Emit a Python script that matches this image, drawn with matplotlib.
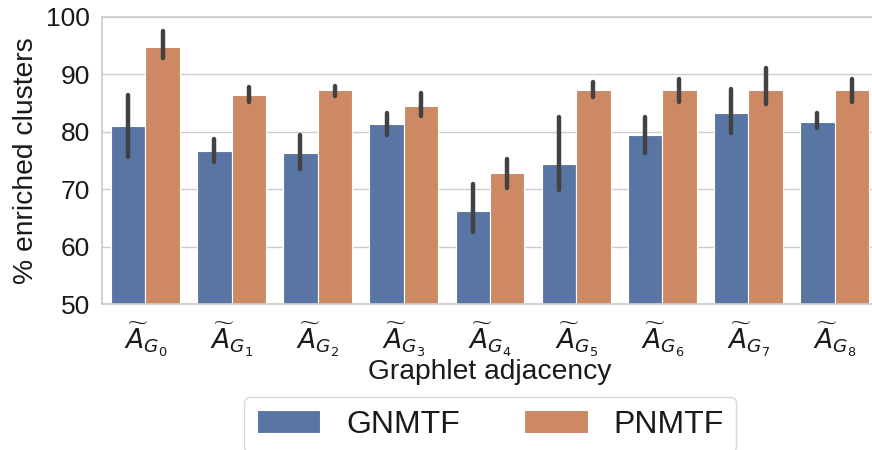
import numpy as np
import matplotlib.pyplot as plt
import seaborn as sns

# % enriched clusters per graphlet adjacency matrix (mean with CI bounds)
labels = [r"$\widetilde{A}_{G_%d}$" % i for i in range(9)]
methods = ["GNMTF", "PNMTF"]

gnmtf_mean = [81.0, 76.7, 76.3, 81.4, 66.3, 74.4, 79.5, 83.3, 81.7]
gnmtf_lo = [75.6, 74.8, 73.6, 79.4, 62.6, 69.8, 76.3, 79.8, 80.6]
gnmtf_hi = [86.4, 78.7, 79.4, 83.3, 70.9, 82.5, 82.5, 87.5, 83.2]

pnmtf_mean = [94.8, 86.4, 87.2, 84.5, 72.8, 87.2, 87.2, 87.2, 87.2]
pnmtf_lo = [92.9, 85.2, 86.3, 82.8, 70.2, 86.0, 85.2, 84.8, 85.2]
pnmtf_hi = [97.6, 87.8, 87.9, 86.7, 75.2, 88.7, 89.1, 91.0, 89.1]

sns.set_theme(style="whitegrid")
plt.rcParams["font.family"] = ["Liberation Sans", "DejaVu Sans"]

palette = [sns.desaturate(c, 0.75) for c in sns.color_palette("deep", 2)]

fig = plt.figure(figsize=(8.72, 4.5), dpi=100)
ax = fig.add_axes([0.1174, 0.3238, 0.889, 0.639])

x = np.arange(len(labels))
width = 0.4
series = [
    (gnmtf_mean, gnmtf_lo, gnmtf_hi),
    (pnmtf_mean, pnmtf_lo, pnmtf_hi),
]
for k, (mean, lo, hi) in enumerate(series):
    pos = x - width / 2 + k * width
    ax.bar(pos, np.array(mean) - 50, width, bottom=50, color=palette[k],
           edgecolor="white", linewidth=0.8, label=methods[k], zorder=2)
    ax.vlines(pos, lo, hi, colors="#424242", linewidth=3.2,
              capstyle="round", zorder=3)

ax.set_xlim(-0.5, len(labels) - 0.5)
ax.set_ylim(50, 100)
ax.set_yticks(np.arange(50, 101, 10))
ax.set_xticks(x)
ax.set_xticklabels(labels)
ax.tick_params(axis="y", labelsize=19, pad=3, labelcolor="#1a1a1a")
ax.tick_params(axis="x", labelsize=19, pad=6, labelcolor="#1a1a1a")
ax.grid(axis="x", visible=False)
ax.set_axisbelow(True)

ax.set_xlabel("Graphlet adjacency", fontsize=20.3, labelpad=0, color="#1a1a1a")
ax.set_ylabel("% enriched clusters", fontsize=20.3, labelpad=5, color="#1a1a1a")

ax.legend(loc="upper center", bbox_to_anchor=(0.5, -0.322), ncol=2,
          fontsize=23, frameon=True, columnspacing=2.0, handlelength=2.0,
          borderpad=0.4, borderaxespad=0, labelcolor="#1a1a1a")

fig.savefig("out.png", dpi=100)
